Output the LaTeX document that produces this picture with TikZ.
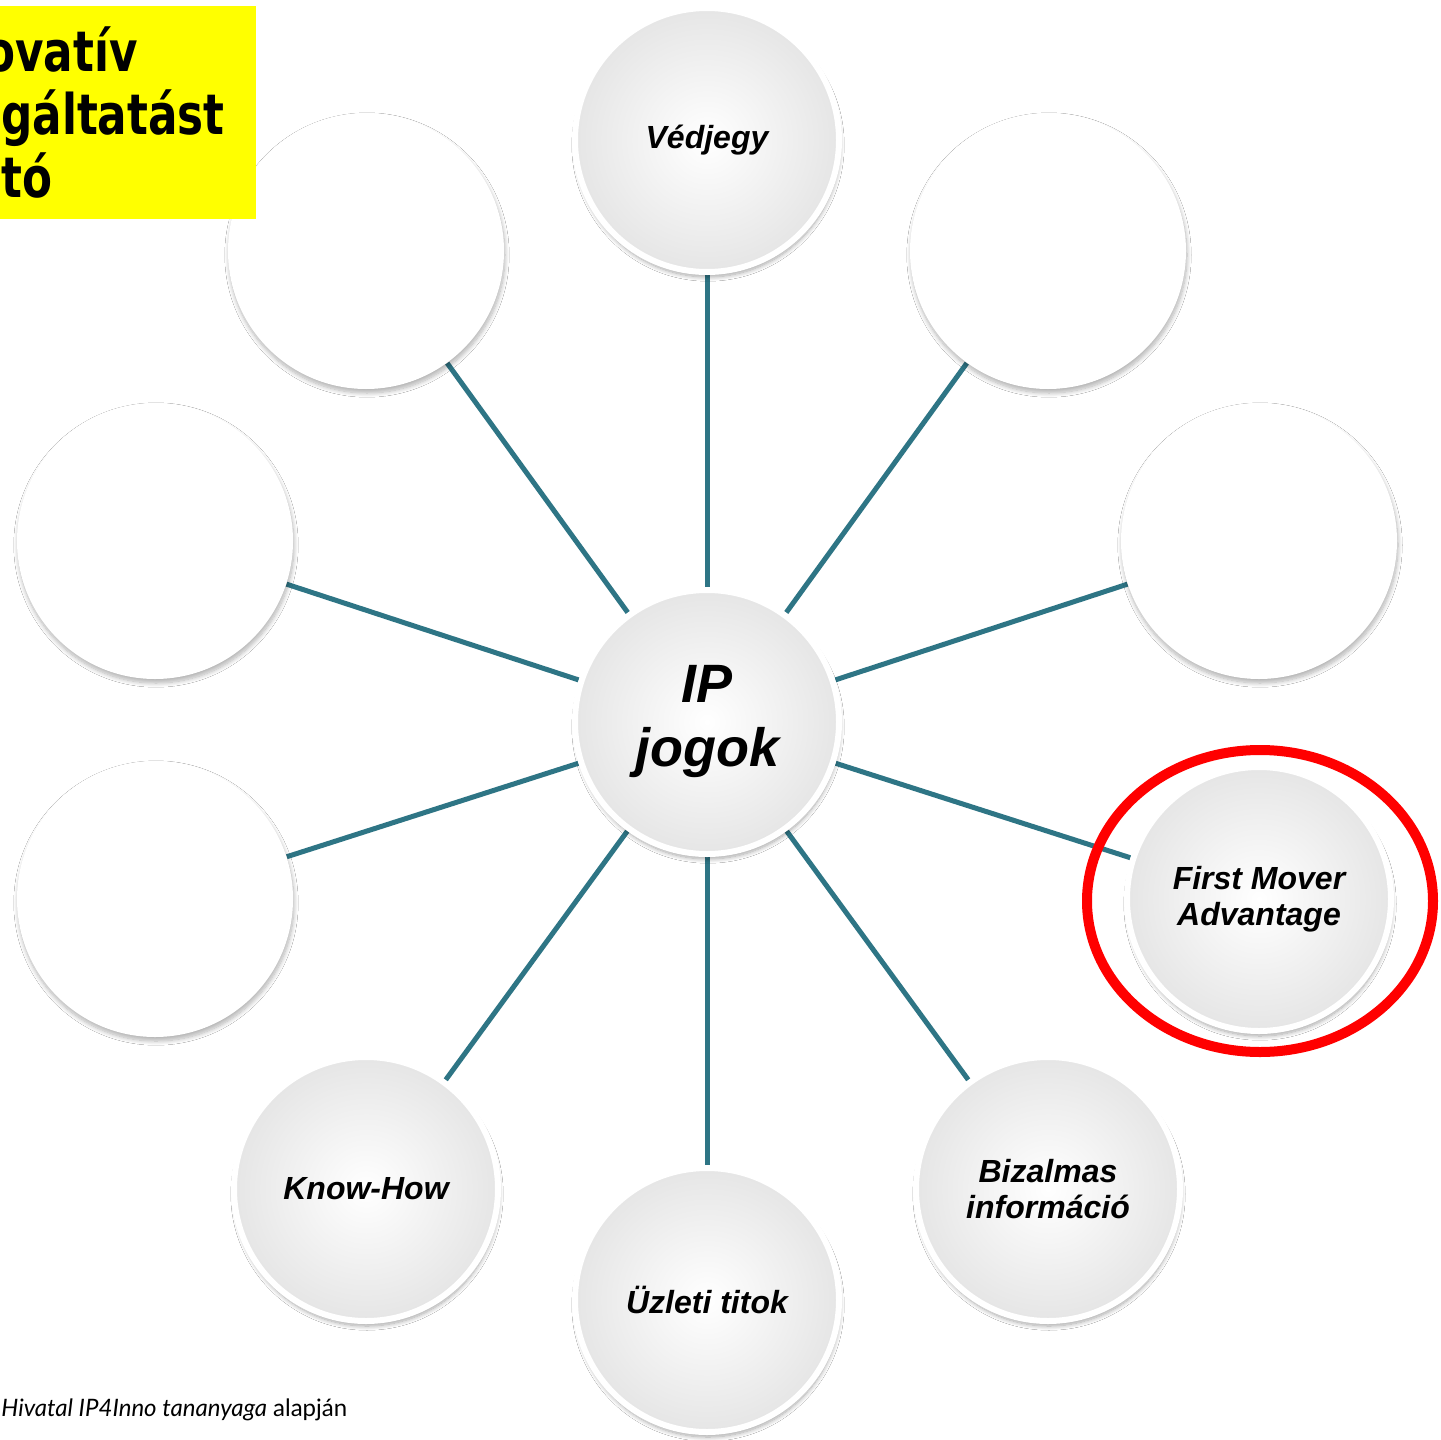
\documentclass[tikz,border=0pt]{standalone}
\usepackage{fontspec}
\setmainfont{Liberation Sans}
\newfontfamily\boxfont[FakeStretch=0.78]{DejaVu Sans}
\newfontfamily\notefont{Lato}
\usetikzlibrary{backgrounds,shadows.blur}

\definecolor{spoketeal}{RGB}{46,117,133}
\definecolor{boxyellow}{RGB}{255,255,0}
\definecolor{ringred}{RGB}{255,0,0}

\tikzset{
  ipbubble/.style={circle, minimum size=132pt, inner sep=0pt,
    draw=white, line width=3pt, inner color=white, outer color=black!10,
    blur shadow={shadow blur steps=10, shadow xshift=0.5pt,
      shadow yshift=-2.5pt, shadow opacity=35},
    align=center, font=\bfseries\itshape\fontsize{16}{18}\selectfont},
  emptybubble/.style={circle, minimum size=138pt, inner sep=0pt,
    fill=white,
    blur shadow={shadow blur steps=10, shadow xshift=0.5pt,
      shadow yshift=-2pt, shadow opacity=30}},
  spoke/.style={draw=spoketeal, line width=2.5pt},
  boxline/.style={anchor=base east, inner sep=0pt,
    font=\boxfont\bfseries\fontsize{28}{32}\selectfont}
}

\begin{document}
\begin{tikzpicture}[x=0.5pt, y=-0.5pt]
  \useasboundingbox (0,0) rectangle (1441,1440);

  \node[ipbubble, font=\bfseries\itshape\fontsize{27}{32}\selectfont] (ip) at (707,722) {IP\\jogok};

  \node[ipbubble] (vedjegy) at (707,140) {Védjegy};
  \node[emptybubble] (topright) at (1048,251) {};
  \node[emptybubble] (rightup) at (1259,541) {};
  \node[ipbubble] (fma) at (1259,899) {First Mover\\Advantage};
  \node[ipbubble] (bizalmas) at (1048,1189) {Bizalmas\\információ};
  \node[ipbubble] (uzleti) at (707,1300) {Üzleti titok};
  \node[ipbubble] (knowhow) at (366,1189) {Know-How};
  \node[emptybubble] (leftlow) at (155,899) {};
  \node[emptybubble] (leftup) at (155,541) {};
  \node[emptybubble] (topleft) at (366,251) {};

  \begin{scope}[on background layer]
    \fill[white] (0,0) rectangle (1441,1440);
    \draw[spoke] (ip) -- (vedjegy);
    \draw[spoke] (ip) -- (topright);
    \draw[spoke] (ip) -- (rightup);
    \draw[spoke] (ip) -- (fma);
    \draw[spoke] (ip) -- (bizalmas);
    \draw[spoke] (ip) -- (uzleti);
    \draw[spoke] (ip) -- (knowhow);
    \draw[spoke] (ip) -- (leftlow);
    \draw[spoke] (ip) -- (leftup);
    \draw[spoke] (ip) -- (topleft);
  \end{scope}

  % highlight round the first mover bubble
  \draw[ringred, line width=5pt] ([shift={(1,2)}]fma.center) ellipse [x radius=173, y radius=151];

  % yellow title box, cut at the left edge
  \begin{scope}
    \clip (0,6) rectangle (256,219);
    \fill[boxyellow] (0,6) rectangle (256,219);
    \node[boxline] (title1) at (138,71) {ovatív};
    \node[boxline] (title2) at (225,134) {gáltatást};
    \node[boxline] (title3) at (53,197) {tó};
  \end{scope}

  \node[anchor=base west, inner sep=0pt, font=\notefont\fontsize{12}{14}\selectfont]
    (source) at (1,1416) {\textit{Hivatal IP4Inno tananyaga} alapján};
\end{tikzpicture}
\end{document}
